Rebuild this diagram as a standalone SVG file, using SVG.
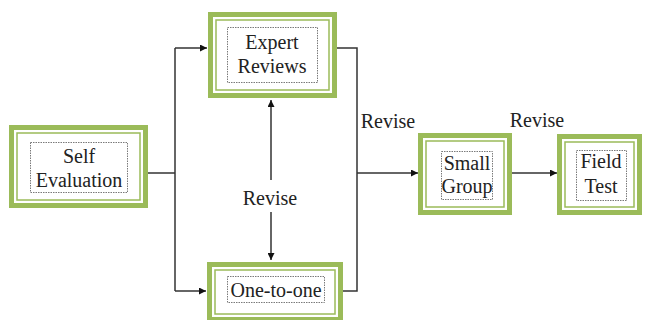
<svg xmlns="http://www.w3.org/2000/svg" width="645" height="320" viewBox="0 0 645 320">
<style>
.outer{fill:#fff;stroke:#9bbb59;stroke-width:5}
.thin{fill:none;stroke:#9bbb59;stroke-width:1.5}
.dot{fill:#fff;stroke:#7a7a7a;stroke-width:1;stroke-dasharray:1.5 1}
.t{font-family:'Liberation Serif','DejaVu Serif',serif;font-size:20px;fill:#222;text-anchor:middle}
.c{fill:none;stroke:#333;stroke-width:1.5}
</style>
<defs>
<marker id="ah" viewBox="0 0 10 10" refX="10" refY="5" markerWidth="7" markerHeight="7" markerUnits="userSpaceOnUse" orient="auto">
<path d="M0,0 L10,5 L0,10 z" fill="#111"/>
</marker>
</defs>
<rect width="645" height="320" fill="#fff"/>
<g id="connectors">
<path class="c" d="M148,173 H175"/>
<path class="c" d="M175,48 V291"/>
<path class="c" d="M175,48 H207" marker-end="url(#ah)"/>
<path class="c" d="M175,291 H206" marker-end="url(#ah)"/>
<path class="c" d="M337,48 H357 V291 H343"/>
<path class="c" d="M357,173 H418" marker-end="url(#ah)"/>
<path class="c" d="M512,173 H557" marker-end="url(#ah)"/>
<path class="c" d="M271,180 V100" marker-end="url(#ah)"/>
<path class="c" d="M271,212 V260" marker-end="url(#ah)"/>
</g>
<g id="self-evaluation">
<rect class="outer" x="11.5" y="127.5" width="134" height="78"/>
<rect class="thin" x="17" y="133" width="123" height="67"/>
<rect class="dot" x="30.5" y="142.5" width="97" height="50"/>
<text class="t" x="79" y="163" font-family="Liberation Serif, serif">Self</text>
<text class="t" x="79" y="187">Evaluation</text>
</g>
<g id="expert-reviews">
<rect class="outer" x="210.5" y="14.5" width="124" height="81"/>
<rect class="thin" x="216" y="20" width="113" height="70"/>
<rect class="dot" x="227.5" y="27.5" width="90" height="55"/>
<text class="t" x="272" y="49">Expert</text>
<text class="t" x="272" y="73">Reviews</text>
</g>
<g id="one-to-one">
<rect class="outer" x="209.5" y="264.5" width="131" height="55"/>
<rect class="thin" x="215" y="270" width="120" height="44"/>
<rect class="dot" x="227.5" y="276.5" width="97" height="26"/>
<text class="t" x="276" y="297">One-to-one</text>
</g>
<g id="small-group">
<rect class="outer" x="420.5" y="135.5" width="89" height="77"/>
<rect class="thin" x="426" y="141" width="78" height="66"/>
<rect class="dot" x="441.5" y="151.5" width="51" height="48"/>
<text class="t" x="467" y="170">Small</text>
<text class="t" x="467" y="193">Group</text>
</g>
<g id="field-test">
<rect class="outer" x="559.5" y="136.5" width="80" height="76"/>
<rect class="thin" x="565" y="142" width="69" height="65"/>
<rect class="dot" x="576.5" y="150.5" width="50" height="50"/>
<text class="t" x="601" y="168">Field</text>
<text class="t" x="601" y="193">Test</text>
</g>
<g id="labels">
<text class="t" x="270" y="205">Revise</text>
<text class="t" x="388" y="128">Revise</text>
<text class="t" x="537" y="127">Revise</text>
</g>
</svg>
